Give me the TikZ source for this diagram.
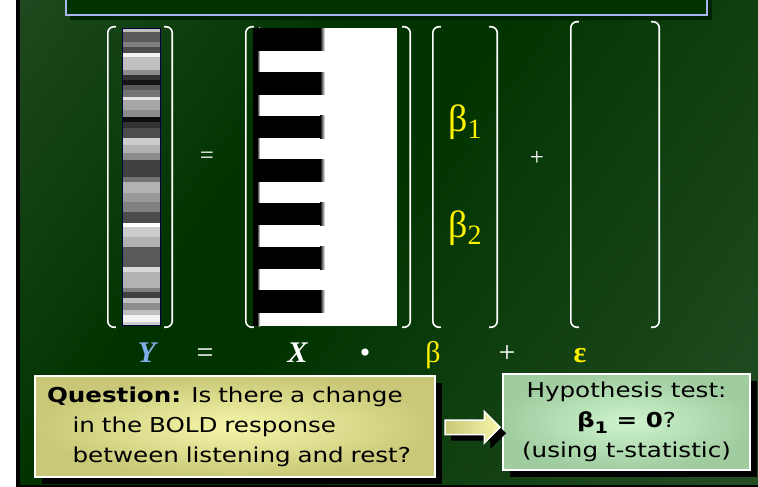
\documentclass[tikz,border=0pt]{standalone}
\usepackage{fontspec}
\setmainfont{Liberation Serif}
\setsansfont{DejaVu Sans}
\newfontfamily\panelfont[FakeStretch=1.2]{DejaVu Sans}
\usepackage{tikz}
\usetikzlibrary{positioning,calc,shapes.arrows,shadows}
\definecolor{boardlight}{RGB}{50,88,50}
\definecolor{boarddark}{RGB}{0,51,0}
\definecolor{framelilac}{RGB}{170,180,240}
\definecolor{ylabel}{RGB}{130,175,235}
\definecolor{qlight}{RGB}{246,246,170}
\definecolor{qdark}{RGB}{200,200,120}
\definecolor{hlight}{RGB}{206,244,206}
\definecolor{hdark}{RGB}{160,205,160}
\pgfdeclarehorizontalshading{board}{100bp}{color(0bp)=(boardlight);
  color(38bp)=(boarddark); color(46bp)=(boarddark); color(100bp)=(boardlight)}

\begin{document}
\begin{tikzpicture}[x=1pt, y=-1pt,
  matbox/.style={minimum height=300pt, inner sep=0pt},
  brk/.style={draw=white, line width=1.6pt, rounded corners=6pt},
  sym/.style={text=white, font=\fontsize{25}{25}\selectfont},
  rowlbl/.style={anchor=base, text=white, font=\fontsize{30}{30}\selectfont},
  betalbl/.style={text=yellow, font=\fontsize{38}{38}\selectfont},
  panel/.style={draw=white, line width=1.5pt, inner sep=0pt,
    drop shadow={shadow xshift=7pt, shadow yshift=-7pt, fill=black,
      opacity=1},
    font=\panelfont\fontsize{20.5}{30}\selectfont},
]
\useasboundingbox (0,0) rectangle (758,487);
% ---- Board ---------------------------------------------------------------
\fill[white] (0,0) rectangle (758,487);
\fill[black] (16,0) rectangle (758,487);
\shade[shading=board, shading angle=-35] (20,0) rectangle (758,484);
\fill[boarddark!70!black] (70,-10) rectangle (712,20);
\draw[framelilac, line width=2.5pt, fill=boarddark] (66,-10) rectangle
  (707,15);
% ---- Matrices ------------------------------------------------------------
\node[matbox, minimum width=64pt] (ymat) at (140,177) {};
\node[matbox, minimum width=164pt] (xmat) at (328,177) {};
\node[matbox, minimum width=64pt] (bmat) at (465,177) {};
\node[matbox, minimum width=88pt, minimum height=305pt] (emat) at (615,174.5)
  {};
% Y: the voxel time course
\foreach \a/\b/\g in {28/31.7/75, 31.7/41.7/35, 41.7/46.7/50, 46.7/53.3/30,
    53.3/56.7/95, 56.7/70/75, 70/75/55, 75/80/20, 80/85/8, 85/90/35,
    90/96.7/45, 96.7/100/90, 100/110/65, 110/116.7/55, 116.7/121.7/5,
    121.7/128.3/20, 128.3/138.3/30, 138.3/145/80, 145/153.3/70,
    153.3/160/55, 160/176.7/25, 176.7/181.7/45, 181.7/193.3/70,
    193.3/201.7/60, 201.7/211.7/50, 211.7/223.3/30, 223.3/226.7/100,
    226.7/236.7/80, 236.7/246.7/70, 246.7/266.7/35, 266.7/271.7/85,
    271.7/288.3/70, 288.3/291.7/50, 291.7/298.3/25, 298.3/303.3/75,
    303.3/310/55, 310/315/75, 315/321.7/95, 321.7/325/80} {
  \fill[white!\g!black] (122,\a) rectangle (160,\b);
}
\draw[blue!25!black, line width=0.8pt] (122,28) rectangle (160,325);
% X: the design matrix
\fill[white] (253,28) rectangle (397,326);
\fill[black] (253,28) rectangle (257,326);
\shade[left color=black, right color=white] (257,28) rectangle (260,326);
\foreach \i in {0,...,6} {
  \fill[black] (253,28.5+\i*43.6) rectangle (320,51+\i*43.6);
  \shade[left color=black, right color=white] (320,28.5+\i*43.6) rectangle
    (325,51+\i*43.6);
}
\foreach \m in {ymat,xmat,bmat,emat} {
  \draw[brk] ([xshift=8pt]\m.north west) -- (\m.north west) --
    (\m.south west) -- ([xshift=8pt]\m.south west);
  \draw[brk] ([xshift=-8pt]\m.north east) -- (\m.north east) --
    (\m.south east) -- ([xshift=-8pt]\m.south east);
}
\node[betalbl] (b1) at (465,122)
  {β\raisebox{-0.2em}{\fontsize{28}{28}\selectfont 1}};
\node[betalbl] (b2) at (465,228)
  {β\raisebox{-0.2em}{\fontsize{28}{28}\selectfont 2}};
\node[sym] (eqa) at (207,158) {=};
\node[sym] (plusa) at (537,158) {+};
% ---- Y = X . beta + epsilon ----------------------------------------------
\node[rowlbl, text=ylabel] (ylbl) at (148,362) {\textbf{\textit{Y}}};
\node[rowlbl] (eqb) at (205,362) {=};
\node[rowlbl] (xlbl) at (298,362) {\textbf{\textit{X}}};
\node[rowlbl] (dot) at (365,362) {•};
\node[rowlbl, text=yellow] (blbl) at (433,362) {β};
\node[rowlbl] (plusb) at (507,362) {+};
\node[rowlbl, text=yellow] (elbl) at (580,362) {\textbf{ε}};
% ---- Question and test ---------------------------------------------------
\node[panel, inner color=qlight, outer color=qdark, minimum width=400pt,
      minimum height=101pt, text width=376pt, inner xsep=12pt, align=left]
  (question) at (235,426.5)
  {\textbf{Question:} Is there a change\\
   \hspace*{1.25em}in the BOLD response\\
   \hspace*{1.25em}between listening and rest?};
\node[panel, inner color=hlight, outer color=hdark, minimum width=247pt,
      minimum height=96pt, align=center] (hypo) at (626.5,422)
  {Hypothesis test:\\
   \textbf{β\raisebox{-0.3em}{\fontsize{16}{16}\selectfont 1} = 0}?\\
   (using t-statistic)};
\node[single arrow, draw=white, line width=1.5pt, minimum height=55pt,
      inner sep=6.5pt, single arrow head extend=8.5pt, left color=qdark,
      right color=qlight,
      drop shadow={shadow xshift=6pt, shadow yshift=-6pt, fill=black,
        opacity=1}]
  (arrow) at ($(question.east)!0.5!(hypo.west)+(0,3)$) {};
\end{tikzpicture}
\end{document}
